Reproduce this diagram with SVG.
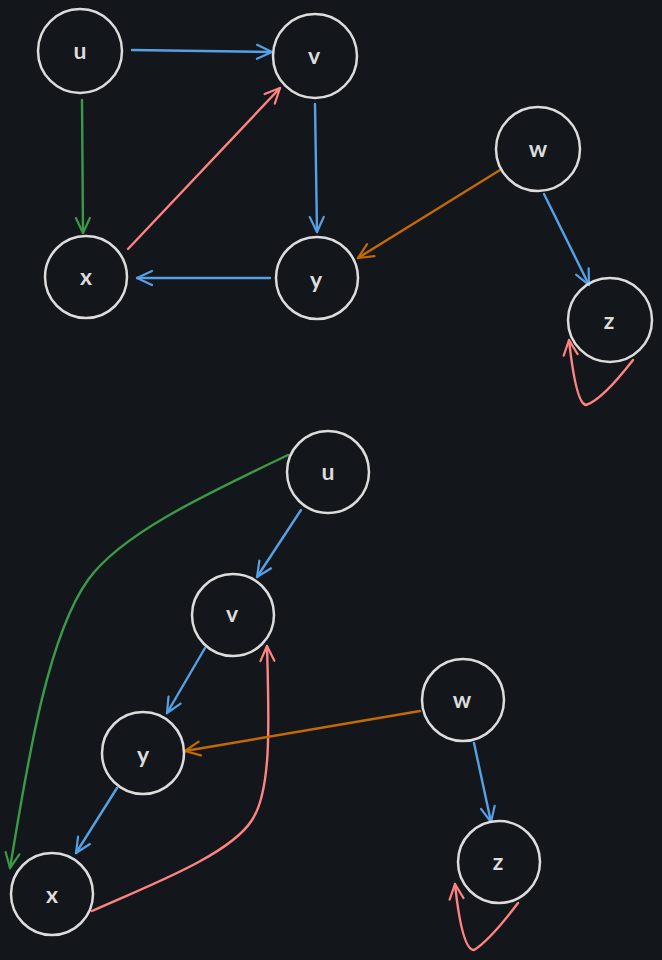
<svg xmlns="http://www.w3.org/2000/svg" width="662" height="960" viewBox="0 0 662 960">
<style>
.node circle{fill:none;stroke:#dcdcdc;stroke-width:2.5}
.node text{fill:#dcdcdc;font-family:"Lato","Liberation Sans",sans-serif;font-size:23px;font-weight:bold;text-anchor:middle;dominant-baseline:central}
.e{fill:none;stroke-width:2.4;stroke-linecap:round}
.b{stroke:#56a0e6;marker-end:url(#mb)}
.g{stroke:#3a9a47;marker-end:url(#mg)}
.r{stroke:#ff8383;marker-end:url(#mr)}
.o{stroke:#c46a00;marker-end:url(#mo)}
</style>
<defs>
<marker id="mb" markerUnits="userSpaceOnUse" viewBox="-18 -10 20 20" refX="0" refY="0" markerWidth="20" markerHeight="20" orient="auto" overflow="visible"><path d="M-15,-7 L0,0 L-15,7" fill="none" stroke="#56a0e6" stroke-width="2.2" stroke-linecap="round" stroke-linejoin="round"/></marker>
<marker id="mg" markerUnits="userSpaceOnUse" viewBox="-18 -10 20 20" refX="0" refY="0" markerWidth="20" markerHeight="20" orient="auto" overflow="visible"><path d="M-15,-7 L0,0 L-15,7" fill="none" stroke="#3a9a47" stroke-width="2.2" stroke-linecap="round" stroke-linejoin="round"/></marker>
<marker id="mr" markerUnits="userSpaceOnUse" viewBox="-18 -10 20 20" refX="0" refY="0" markerWidth="20" markerHeight="20" orient="auto" overflow="visible"><path d="M-15,-7 L0,0 L-15,7" fill="none" stroke="#ff8383" stroke-width="2.2" stroke-linecap="round" stroke-linejoin="round"/></marker>
<marker id="mo" markerUnits="userSpaceOnUse" viewBox="-18 -10 20 20" refX="0" refY="0" markerWidth="20" markerHeight="20" orient="auto" overflow="visible"><path d="M-15,-7 L0,0 L-15,7" fill="none" stroke="#c46a00" stroke-width="2.2" stroke-linecap="round" stroke-linejoin="round"/></marker>
</defs>
<rect width="662" height="960" fill="#13161b"/>
<g id="connectors">
<path class="e b" d="M132,50 L272,52"/>
<path class="e g" d="M82,100 L83,233"/>
<path class="e r" d="M128,249 L280,88"/>
<path class="e b" d="M315,104 L317,232"/>
<path class="e b" d="M270,278 L137,278"/>
<path class="e o" d="M500,170 L358,258"/>
<path class="e b" d="M544,194 L589,285"/>
<path class="e r" d="M633,360 Q602,400 586,405 Q576,404 569,340"/>
<path class="e g" d="M288,455 C200,497 120,535 88,580 C45,640 25,780 10,868"/>
<path class="e b" d="M301,510 L257,577"/>
<path class="e b" d="M205,648 L167,713"/>
<path class="e b" d="M117,788 L76,853"/>
<path class="e r" d="M92,911 C150,885 230,855 252,820 C272,790 269,720 267,646"/>
<path class="e o" d="M420,711 L185,751"/>
<path class="e b" d="M474,743 L491,822"/>
<path class="e r" d="M518,903 Q490,940 474,950 Q462,950 455,884"/>
</g>
<g id="top-u" class="node"><circle cx="80" cy="51" r="42"/><text x="80" y="50">u</text></g>
<g id="top-v" class="node"><circle cx="315" cy="56" r="42"/><text x="314" y="55">v</text></g>
<g id="top-x" class="node"><circle cx="86" cy="277" r="41"/><text x="86" y="276">x</text></g>
<g id="top-y" class="node"><circle cx="317" cy="278" r="41"/><text x="316" y="279">y</text></g>
<g id="top-w" class="node"><circle cx="538" cy="149" r="42"/><text x="538" y="148">w</text></g>
<g id="top-z" class="node"><circle cx="610" cy="320" r="42"/><text x="609" y="320">z</text></g>
<g id="bot-u" class="node"><circle cx="328" cy="472" r="41"/><text x="328" y="471">u</text></g>
<g id="bot-v" class="node"><circle cx="233" cy="615" r="41"/><text x="232" y="613">v</text></g>
<g id="bot-y" class="node"><circle cx="143" cy="753" r="41"/><text x="143" y="754">y</text></g>
<g id="bot-x" class="node"><circle cx="52" cy="894" r="41"/><text x="52" y="894">x</text></g>
<g id="bot-w" class="node"><circle cx="463" cy="700" r="41"/><text x="462" y="699">w</text></g>
<g id="bot-z" class="node"><circle cx="499" cy="862" r="41"/><text x="498" y="861">z</text></g>
</svg>
